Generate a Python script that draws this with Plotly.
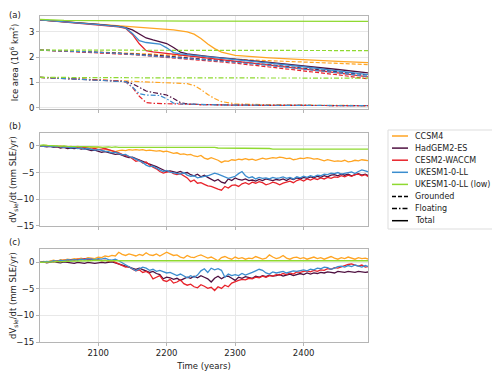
import plotly.graph_objects as go

# model names + colours
models = ["CCSM4", "HadGEM2-ES", "CESM2-WACCM", "UKESM1-0-LL", "UKESM1-0-LL (low)"]
colors = ["#ffa523", "#4e1040", "#e8222a", "#3b8dcf", "#8fd930"]

# line style keys shown in legend
styles = ["Grounded", "Floating", "Total"]
dashes = ["4px,2px", "5px,2px,1.5px,2px", "solid"]

# ---- panel (a): ice area (10^6 km2)
years_a = [2015, 2050, 2100, 2130, 2140, 2150, 2160, 2170, 2180, 2190, 2200, 2210, 2220,
           2230, 2240, 2250, 2260, 2270, 2280, 2290, 2300, 2350, 2400, 2450, 2500]

grounded = {
    "CCSM4": [2.28, 2.25, 2.20, 2.17, 2.16, 2.15, 2.14, 2.13, 2.12, 2.10, 2.09, 2.08, 2.06,
              2.05, 2.03, 2.02, 2.00, 1.98, 1.96, 1.94, 1.92, 1.86, 1.80, 1.75, 1.70],
    "HadGEM2-ES": [2.28, 2.25, 2.20, 2.16, 2.14, 2.13, 2.12, 2.10, 2.08, 2.06, 2.04, 2.02, 2.00,
                   1.98, 1.96, 1.94, 1.91, 1.89, 1.87, 1.84, 1.82, 1.70, 1.57, 1.43, 1.28],
    "CESM2-WACCM": [2.28, 2.24, 2.18, 2.14, 2.12, 2.10, 2.08, 2.06, 2.04, 2.02, 2.00, 1.97, 1.95,
                    1.93, 1.91, 1.88, 1.86, 1.83, 1.81, 1.78, 1.76, 1.61, 1.46, 1.30, 1.12],
    "UKESM1-0-LL": [2.28, 2.25, 2.19, 2.15, 2.13, 2.12, 2.10, 2.08, 2.06, 2.04, 2.02, 2.00, 1.98,
                    1.96, 1.94, 1.92, 1.89, 1.87, 1.85, 1.82, 1.80, 1.67, 1.53, 1.38, 1.21],
    "UKESM1-0-LL (low)": [2.28, 2.28, 2.27, 2.27, 2.27, 2.27, 2.27, 2.27, 2.27, 2.27, 2.27, 2.27, 2.27,
                          2.27, 2.27, 2.27, 2.27, 2.27, 2.27, 2.27, 2.27, 2.27, 2.26, 2.26, 2.26],
}
floating = {
    "CCSM4": [1.20, 1.16, 1.10, 1.07, 1.06, 1.05, 1.04, 1.03, 1.03, 1.02, 1.01, 1.00, 0.98,
              0.95, 0.88, 0.72, 0.52, 0.36, 0.24, 0.18, 0.15, 0.11, 0.09, 0.08, 0.08],
    "HadGEM2-ES": [1.20, 1.16, 1.10, 1.06, 1.03, 0.95, 0.80, 0.66, 0.60, 0.56, 0.50, 0.36, 0.20,
                   0.15, 0.13, 0.12, 0.12, 0.11, 0.11, 0.10, 0.10, 0.09, 0.09, 0.08, 0.08],
    "CESM2-WACCM": [1.20, 1.16, 1.10, 1.06, 1.02, 0.80, 0.45, 0.20, 0.17, 0.16, 0.15, 0.14, 0.13,
                    0.13, 0.12, 0.12, 0.12, 0.11, 0.11, 0.10, 0.10, 0.09, 0.09, 0.08, 0.08],
    "UKESM1-0-LL": [1.20, 1.16, 1.10, 1.06, 1.03, 0.82, 0.55, 0.50, 0.50, 0.48, 0.35, 0.18, 0.15,
                    0.14, 0.13, 0.12, 0.12, 0.11, 0.11, 0.10, 0.10, 0.09, 0.09, 0.08, 0.08],
    "UKESM1-0-LL (low)": [1.20, 1.19, 1.18, 1.18, 1.18, 1.18, 1.18, 1.18, 1.18, 1.18, 1.18, 1.18, 1.18,
                          1.18, 1.18, 1.18, 1.18, 1.18, 1.18, 1.18, 1.18, 1.18, 1.17, 1.17, 1.17],
}
total = {
    "CCSM4": [3.48, 3.41, 3.30, 3.24, 3.22, 3.20, 3.18, 3.16, 3.15, 3.12, 3.10, 3.08, 3.04,
              3.00, 2.91, 2.74, 2.52, 2.34, 2.20, 2.12, 2.07, 1.97, 1.89, 1.83, 1.78],
    "HadGEM2-ES": [3.48, 3.41, 3.30, 3.22, 3.17, 3.08, 2.92, 2.76, 2.68, 2.62, 2.54, 2.38, 2.20,
                   2.13, 2.09, 2.06, 2.03, 2.00, 1.98, 1.94, 1.92, 1.79, 1.66, 1.51, 1.36],
    "CESM2-WACCM": [3.48, 3.40, 3.28, 3.20, 3.14, 2.90, 2.53, 2.26, 2.21, 2.18, 2.15, 2.11, 2.08,
                    2.06, 2.03, 2.00, 1.98, 1.94, 1.92, 1.88, 1.86, 1.70, 1.55, 1.38, 1.20],
    "UKESM1-0-LL": [3.48, 3.41, 3.29, 3.21, 3.16, 2.94, 2.65, 2.58, 2.56, 2.52, 2.37, 2.18, 2.13,
                    2.10, 2.07, 2.04, 2.01, 1.98, 1.96, 1.92, 1.90, 1.76, 1.62, 1.46, 1.29],
    "UKESM1-0-LL (low)": [3.50, 3.46, 3.45, 3.44, 3.44, 3.44, 3.44, 3.44, 3.44, 3.44, 3.43, 3.43, 3.43,
                          3.43, 3.43, 3.43, 3.43, 3.43, 3.43, 3.43, 3.43, 3.43, 3.42, 3.42, 3.42],
}

# ---- panels (b) and (c): dV_sle/dt (mm SLE/yr), every 5 years 2015..2495
years_bc = list(range(2015, 2500, 5))

rate_b = {
    "CCSM4": [0.0, 0.1, 0.1, 0.0, 0.0, -0.1, 0.0, -0.1, -0.2, -0.1,
              -0.2, -0.1, -0.2, -0.3, -0.2, -0.3, -0.4, -0.3, -0.3, -0.6,
              -0.8, -1.0, -1.1, -0.9, -0.8, -0.9, -0.7, -0.8, -0.7, -0.8,
              -0.7, -0.9, -0.8, -0.9, -1.0, -0.9, -1.1, -1.0, -1.2, -1.4,
              -1.3, -1.6, -1.5, -1.7, -1.6, -1.9, -2.0, -1.8, -2.3, -2.5,
              -2.2, -2.4, -2.7, -3.1, -2.8, -2.9, -2.6, -2.7, -2.5, -2.6,
              -2.4, -2.6, -2.5, -2.7, -2.5, -2.3, -2.5, -2.4, -2.2, -2.3,
              -2.1, -2.2, -2.4, -2.3, -2.6, -2.5, -2.3, -2.4, -2.2, -2.3,
              -2.5, -2.4, -2.6, -2.8, -2.6, -2.7, -2.9, -2.8, -2.9, -2.7,
              -3.0, -2.9, -2.7, -2.8, -2.6, -2.7, -2.8],
    "HadGEM2-ES": [0.0, -0.1, -0.2, -0.1, -0.3, -0.2, -0.4, -0.3, -0.5, -0.4,
                   -0.5, -0.4, -0.6, -0.5, -0.7, -0.9, -0.8, -1.0, -1.2, -1.1,
                   -1.3, -1.4, -1.6, -1.5, -1.8, -2.0, -2.2, -2.1, -2.4, -2.6,
                   -2.9, -3.2, -3.4, -3.7, -3.9, -4.2, -4.5, -4.8, -4.7, -4.9,
                   -5.0, -4.8, -5.1, -5.0, -5.4, -5.6, -5.3, -5.8, -5.5, -5.9,
                   -6.2, -6.6, -6.3, -6.8, -7.0, -6.2, -6.5, -6.0, -6.3, -6.4,
                   -6.2, -6.5, -6.4, -6.6, -6.3, -6.5, -6.2, -6.4, -6.5, -6.3,
                   -6.4, -6.2, -6.5, -6.1, -6.3, -6.0, -6.2, -5.9, -6.1, -5.8,
                   -6.0, -5.7, -5.9, -5.6, -5.8, -5.5, -5.4, -5.6, -5.3, -5.5,
                   -5.3, -5.6, -5.4, -5.2, -5.5, -5.3, -5.6],
    "CESM2-WACCM": [0.0, 0.0, -0.1, 0.0, -0.1, -0.2, -0.1, -0.2, -0.3, -0.2,
                    -0.3, -0.2, -0.4, -0.3, -0.5, -0.6, -0.5, -0.7, -0.6, -0.5,
                    -0.7, -0.9, -1.0, -1.3, -1.6, -1.8, -2.0, -2.4, -2.9, -2.7,
                    -3.2, -3.0, -3.6, -4.0, -4.3, -4.8, -5.1, -4.9, -4.8, -5.2,
                    -5.4, -5.2, -5.6, -6.0, -6.7, -6.4, -7.0, -6.9, -7.2, -7.5,
                    -7.6, -7.9, -8.1, -8.3, -7.6, -7.9, -7.4, -7.3, -7.6, -7.1,
                    -6.9, -7.2, -6.8, -7.0, -6.7, -6.9, -7.3, -7.1, -6.8, -7.0,
                    -7.3, -7.0, -6.8, -6.6, -6.9, -6.5, -6.3, -6.6, -6.2, -6.4,
                    -6.1, -6.3, -6.0, -6.2, -5.9, -6.1, -5.8, -5.9, -5.6, -5.8,
                    -5.5, -5.7, -5.4, -5.3, -5.6, -5.4, -5.8],
    "UKESM1-0-LL": [0.0, -0.1, 0.0, -0.1, -0.2, -0.1, -0.2, -0.3, -0.2, -0.4,
                    -0.3, -0.5, -0.4, -0.6, -0.5, -0.7, -0.8, -0.7, -0.9, -1.0,
                    -1.1, -1.3, -1.2, -1.5, -1.7, -1.6, -2.0, -2.2, -2.5, -2.8,
                    -3.1, -3.6, -3.9, -3.8, -4.2, -4.5, -4.8, -4.6, -4.9, -5.0,
                    -5.1, -5.3, -5.0, -5.5, -5.7, -5.6, -6.0, -5.8, -5.7, -5.6,
                    -5.4, -5.1, -5.3, -5.6, -5.8, -6.1, -5.9, -5.7, -5.2, -4.8,
                    -5.6, -6.0, -5.8, -6.2, -5.9, -6.1, -6.0, -6.2, -5.9, -6.1,
                    -6.0, -5.8, -6.1, -5.9, -6.2, -5.8, -6.0, -5.7, -5.9, -5.6,
                    -5.8, -5.5, -5.6, -5.3, -5.4, -5.1, -5.2, -5.0, -5.3, -5.1,
                    -5.0, -4.9, -5.2, -4.8, -4.5, -4.7, -4.9],
    "UKESM1-0-LL (low)": [0.1, 0.2, 0.1, 0.1, 0.0, 0.0, -0.1, 0.0, -0.1, -0.1,
                          -0.1, -0.2, -0.1, -0.2, -0.2, -0.1, -0.2, -0.2, -0.3, -0.2,
                          -0.2, -0.3, -0.2, -0.3, -0.3, -0.2, -0.3, -0.3, -0.3, -0.2,
                          -0.3, -0.3, -0.2, -0.3, -0.3, -0.3, -0.3, -0.2, -0.3, -0.3,
                          -0.3, -0.3, -0.3, -0.3, -0.3, -0.3, -0.3, -0.3, -0.3, -0.3,
                          -0.3, -0.3, -0.4, -0.4, -0.4, -0.5, -0.5, -0.5, -0.5, -0.5,
                          -0.5, -0.5, -0.5, -0.5, -0.5, -0.5, -0.5, -0.5, -0.6, -0.6,
                          -0.6, -0.6, -0.6, -0.7, -0.7, -0.7, -0.7, -0.7, -0.7, -0.7,
                          -0.7, -0.7, -0.7, -0.7, -0.6, -0.6, -0.6, -0.6, -0.6, -0.6,
                          -0.6, -0.6, -0.6, -0.6, -0.6, -0.6, -0.6],
}

rate_c = {
    "CCSM4": [0.0, 0.2, 0.1, 0.3, 0.4, 0.2, 0.5, 0.4, 0.6, 0.5,
              0.7, 0.6, 0.8, 0.6, 0.9, 0.8, 0.7, 1.0, 0.9, 1.2,
              1.1, 1.3, 1.2, 1.9, 1.5, 1.3, 1.6, 1.4, 1.2, 1.5,
              1.3, 1.8, 1.4, 1.3, 1.6, 1.2, 1.5, 1.9, 1.6, 1.3,
              1.4, 1.0, 0.8, 1.3, 1.0, 0.9, 1.2, 1.4, 1.1, 0.8,
              1.0, 0.7, 0.3, 0.9, 1.1, 0.8, 0.6, 1.0, 0.7, 0.9,
              0.6, 0.8, 0.7, 1.1, 0.9, 0.6, 0.8, 1.4, 1.0, 0.7,
              0.9, 1.3, 0.8, 0.6, 0.9, 1.0, 0.7, 0.9, 0.6, 0.8,
              1.0, 0.7, 0.9, 0.6, 0.8, 1.1, 0.8, 0.6, 0.9, 0.7,
              1.0, 0.8, 0.6, 0.9, 0.7, 0.8, 0.6],
    "HadGEM2-ES": [0.0, 0.1, -0.1, 0.0, 0.2, 0.0, -0.1, 0.1, 0.0, -0.1,
                   -0.2, 0.0, -0.1, -0.2, 0.0, -0.1, -0.2, -0.1, 0.0, -0.1,
                   0.0, 0.1, -0.1, -0.3, -0.5, -0.6, -0.8, -1.0, -1.3, -1.1,
                   -1.4, -1.6, -1.9, -1.7, -2.1, -2.3, -3.1, -2.8, -2.9, -3.2,
                   -3.0, -3.4, -3.1, -2.8, -3.0, -2.6, -2.9, -2.5, -2.8, -3.1,
                   -3.7, -3.0, -2.6, -3.1, -2.7, -2.6, -3.0, -3.4, -2.8, -3.0,
                   -2.7, -2.8, -3.0, -2.6, -2.8, -2.5, -2.7, -2.4, -2.6, -2.5,
                   -2.3, -2.6, -2.4, -2.2, -2.5, -2.3, -2.1, -2.3, -2.0, -2.2,
                   -2.0, -2.1, -1.9, -2.0, -1.8, -1.9, -2.0, -1.7, -1.8, -1.9,
                   -1.7, -1.8, -1.9, -1.7, -1.8, -1.9, -1.8],
    "CESM2-WACCM": [0.0, 0.1, 0.0, 0.2, 0.1, 0.3, 0.2, 0.4, 0.3, 0.5,
                    0.4, 0.6, 0.5, 0.7, 0.5, 0.6, 0.4, 0.5, 0.3, 0.4,
                    0.2, 0.3, 0.0, -0.3, -0.6, -0.9, -0.8, -1.3, -1.6, -1.4,
                    -1.9, -1.7, -2.1, -3.1, -2.8, -2.5, -3.4, -3.6, -3.2, -3.9,
                    -3.7, -3.3, -4.0, -4.3, -4.1, -4.6, -4.8, -4.2, -4.5, -4.9,
                    -4.7, -5.3, -4.6, -4.9, -4.3, -4.6, -3.9, -3.6, -3.4, -3.2,
                    -3.3, -3.0, -3.1, -2.8, -2.9, -2.6, -2.8, -2.5, -2.6, -2.3,
                    -2.4, -2.1, -2.3, -2.0, -2.2, -1.8, -1.9, -1.7, -1.6, -1.8,
                    -1.5, -1.7, -1.4, -1.5, -1.2, -1.3, -1.0, -1.1, -0.8, -0.6,
                    -0.4, -0.3, -0.5, -0.7, -0.5, -0.9, -0.8],
    "UKESM1-0-LL": [0.0, 0.1, 0.2, 0.1, 0.3, 0.2, 0.4, 0.3, 0.5, 0.4,
                    0.5, 0.4, 0.6, 0.5, 0.7, 0.6, 0.5, 0.7, 0.6, 0.8,
                    0.5, 0.4, 0.6, 0.3, -0.1, -0.4, -0.9, -1.3, -1.6, -1.2,
                    -0.9, -1.1, -1.5, -1.3, -1.7, -1.5, -1.8, -2.0, -1.9, -2.2,
                    -2.5, -2.2, -2.6, -2.9, -2.5, -2.8, -2.4, -1.6, -1.2, -1.9,
                    -1.1, -1.4, -1.2, -1.5, -2.8, -2.2, -2.5, -2.3, -2.5, -2.1,
                    -2.4, -2.2, -1.9, -1.6, -1.3, -1.5, -2.0, -2.2, -1.8, -2.0,
                    -1.9, -1.7, -2.0, -1.8, -1.6, -1.7, -1.5, -1.4, -1.6, -1.3,
                    -1.4, -1.1, -1.2, -0.9, -1.0, -1.3, -1.1, -0.8, -0.7, -0.9,
                    -0.6, -0.8, -0.5, -0.7, -0.9, -0.6, -0.8],
    "UKESM1-0-LL (low)": [0.0, 0.0, 0.1, 0.1, 0.1, 0.2, 0.1, 0.2, 0.2, 0.2,
                          0.3, 0.3, 0.2, 0.3, 0.3, 0.3, 0.4, 0.3, 0.3, 0.3,
                          0.3, 0.3, 0.3, 0.3, 0.4, 0.3, 0.3, 0.3, 0.3, 0.3,
                          0.3, 0.3, 0.3, 0.3, 0.3, 0.3, 0.3, 0.3, 0.3, 0.3,
                          0.3, 0.3, 0.3, 0.3, 0.3, 0.3, 0.3, 0.3, 0.3, 0.3,
                          0.3, 0.3, 0.3, 0.3, 0.3, 0.3, 0.3, 0.3, 0.3, 0.3,
                          0.3, 0.3, 0.3, 0.3, 0.3, 0.3, 0.3, 0.3, 0.3, 0.3,
                          0.3, 0.3, 0.3, 0.3, 0.3, 0.3, 0.3, 0.3, 0.3, 0.3,
                          0.3, 0.3, 0.3, 0.3, 0.3, 0.3, 0.3, 0.3, 0.3, 0.3,
                          0.3, 0.3, 0.3, 0.3, 0.3, 0.3, 0.3],
}

fig = go.Figure()

# panel a
for m, c in zip(models, colors):
    fig.add_trace(go.Scatter(x=years_a, y=grounded[m], mode="lines", showlegend=False,
                             line=dict(color=c, width=1.2, dash=dashes[0]), xaxis="x", yaxis="y"))
    fig.add_trace(go.Scatter(x=years_a, y=floating[m], mode="lines", showlegend=False,
                             line=dict(color=c, width=1.2, dash=dashes[1]), xaxis="x", yaxis="y"))
    fig.add_trace(go.Scatter(x=years_a, y=total[m], mode="lines", showlegend=False,
                             line=dict(color=c, width=1.3), xaxis="x", yaxis="y"))

# panel b
for m, c in zip(models, colors):
    fig.add_trace(go.Scatter(x=years_bc, y=rate_b[m], mode="lines", showlegend=False,
                             line=dict(color=c, width=1.3), xaxis="x2", yaxis="y2"))
# panel c
for m, c in zip(models, colors):
    fig.add_trace(go.Scatter(x=years_bc, y=rate_c[m], mode="lines", showlegend=False,
                             line=dict(color=c, width=1.3), xaxis="x3", yaxis="y3"))

ax = dict(showline=True, mirror=True, linecolor="#b5b5b5", linewidth=1,
          showgrid=True, gridcolor="#e8e8e8", gridwidth=1, zeroline=False,
          ticks="outside", ticklen=3, tickcolor="#b5b5b5", automargin=False,
          tickfont=dict(size=8.5, color="#222"))
xr = [2015, 2494]
xt = [2100, 2200, 2300, 2400]

# the page body adds an 8px offset, so the figure is 8px smaller on each side
fig.update_layout(
    width=492, height=364,
    paper_bgcolor="white", plot_bgcolor="white",
    font=dict(family="DejaVu Sans", size=8.5, color="#222"),
    margin=dict(l=32, r=132, t=8, b=30),
    showlegend=False,
    xaxis=dict(ax, domain=[0, 1], anchor="y", range=xr, tickvals=xt, showticklabels=False),
    xaxis2=dict(ax, domain=[0, 1], anchor="y2", range=xr, tickvals=xt, showticklabels=False),
    xaxis3=dict(ax, domain=[0, 1], anchor="y3", range=xr, tickvals=xt,
                title=dict(text="Time (years)", font=dict(size=8.5), standoff=5)),
    yaxis=dict(ax, domain=[0.715, 1], anchor="x", range=[-0.05, 3.63], tickvals=[0, 1, 2, 3],
               title=dict(text="Ice area (10<sup>6</sup> km<sup>2</sup>)", font=dict(size=8.5), standoff=12)),
    yaxis2=dict(ax, domain=[0.356, 0.641], anchor="x2", range=[-15, 2.4], tickvals=[0, -5, -10, -15],
                title=dict(text="dV<sub>sle</sub>/dt (mm SLE/yr)", font=dict(size=8.5), standoff=3)),
    yaxis3=dict(ax, domain=[0, 0.285], anchor="x3", range=[-15, 2.5], tickvals=[0, -5, -10, -15],
                title=dict(text="dV<sub>sle</sub>/dt (mm SLE/yr)", font=dict(size=8.5), standoff=3)),
)

# helpers take screen pixels -> paper coords
def px(xp):
    return (xp - 40) / 328.0

def py(yp):
    return (342 - yp) / 326.0

fig.add_annotation(text="(a)", xref="paper", yref="paper", x=-0.1, y=py(8),
                   xanchor="left", yanchor="top", showarrow=False, font=dict(size=8.5))
for lab, yy in [("(b)", 126), ("(c)", 242)]:
    fig.add_annotation(text=lab, xref="paper", yref="paper", x=-0.1, y=py(yy),
                       xanchor="left", yanchor="middle", showarrow=False, font=dict(size=8.5))

# hand-built legend (to the right of panel b)
fig.add_shape(type="rect", xref="paper", yref="paper", x0=px(388), x1=px(495), y0=py(229), y1=py(130),
              line=dict(color="#dddddd", width=1), fillcolor="white")
entries = [(m, c, "solid") for m, c in zip(models, colors)] + \
          [(s, "black", d) for s, d in zip(styles, dashes)]
for i, (nm, c, d) in enumerate(entries):
    yc = 136 + i * 12.1
    fig.add_shape(type="line", xref="paper", yref="paper", x0=px(392), x1=px(408), y0=py(yc), y1=py(yc),
                  line=dict(color=c, width=1.5, dash=d))
    fig.add_annotation(text=nm, xref="paper", yref="paper", x=px(413), y=py(yc),
                       xanchor="left", yanchor="middle", showarrow=False, font=dict(size=8))

fig.write_html("out.html")
